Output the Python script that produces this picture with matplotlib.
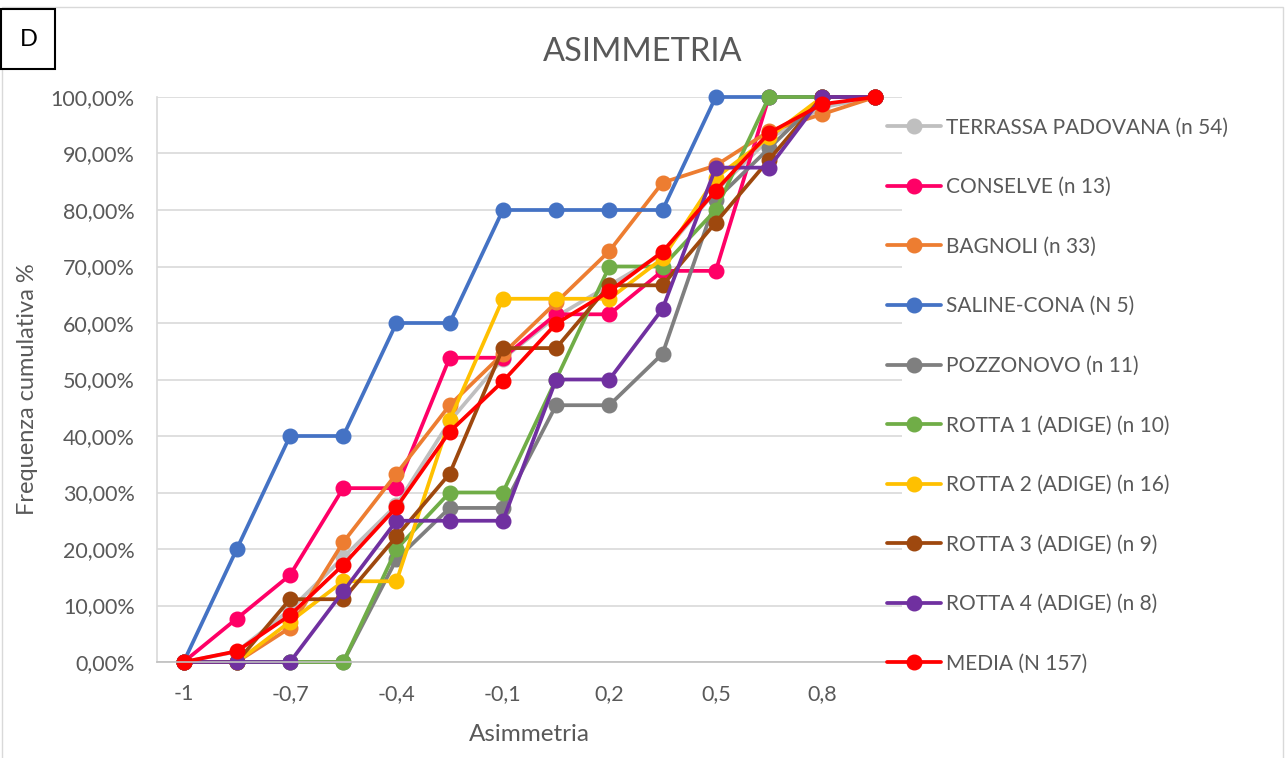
import matplotlib
matplotlib.use("Agg")
import matplotlib.pyplot as plt
from matplotlib.patches import Rectangle
from matplotlib.ticker import FuncFormatter

plt.rcParams['font.family'] = ['Lato', 'DejaVu Sans']

# ---- data ----
x_vals = [-1.0, -0.85, -0.7, -0.55, -0.4, -0.25, -0.1, 0.05, 0.2, 0.35, 0.5, 0.65, 0.8, 0.95]
tick_vals = [-1.0, -0.7, -0.4, -0.1, 0.2, 0.5, 0.8]
tick_labels = ["-1", "-0,7", "-0,4", "-0,1", "0,2", "0,5", "0,8"]

series_names = [
    "TERRASSA PADOVANA (n 54)",
    "CONSELVE (n 13)",
    "BAGNOLI (n 33)",
    "SALINE-CONA (N 5)",
    "POZZONOVO (n 11)",
    "ROTTA 1 (ADIGE) (n 10)",
    "ROTTA 2 (ADIGE) (n 16)",
    "ROTTA 3 (ADIGE) (n 9)",
    "ROTTA 4 (ADIGE) (n 8)",
    "MEDIA (N 157)",
]
terrassa = [0, 1.85, 9.26, 18.52, 27.78, 42.59, 53.70, 61.11, 66.67, 72.22, 83.33, 92.59, 98.15, 100]
conselve = [0, 7.69, 15.38, 30.77, 30.77, 53.85, 53.85, 61.54, 61.54, 69.23, 69.23, 100, 100, 100]
bagnoli = [0, 0, 6.06, 21.21, 33.33, 45.45, 54.55, 63.64, 72.73, 84.85, 87.88, 93.94, 96.97, 100]
saline = [0, 20, 40, 40, 60, 60, 80, 80, 80, 80, 100, 100, 100, 100]
pozzonovo = [0, 0, 0, 0, 18.18, 27.27, 27.27, 45.45, 45.45, 54.55, 81.82, 90.91, 100, 100]
rotta1 = [0, 0, 0, 0, 20, 30, 30, 50, 70, 70, 80, 100, 100, 100]
rotta2 = [0, 0, 7.14, 14.29, 14.29, 42.86, 64.29, 64.29, 64.29, 71.43, 85.71, 92.86, 100, 100]
rotta3 = [0, 0, 11.11, 11.11, 22.22, 33.33, 55.56, 55.56, 66.67, 66.67, 77.78, 88.89, 100, 100]
rotta4 = [0, 0, 0, 12.5, 25, 25, 25, 50, 50, 62.5, 87.5, 87.5, 100, 100]
media = [0, 1.91, 8.28, 17.20, 27.39, 40.76, 49.68, 59.87, 65.61, 72.61, 83.44, 93.63, 98.73, 100]

all_series = [terrassa, conselve, bagnoli, saline, pozzonovo, rotta1, rotta2, rotta3, rotta4, media]
colors = ["#BFBFBF", "#FF0066", "#ED7D31", "#4472C4", "#7F7F7F",
          "#70AD47", "#FFC000", "#9E480E", "#7030A0", "#FF0000"]

text_col = "#595959"

fig = plt.figure(figsize=(12.87, 7.58), dpi=100)
W, H = 1287, 758

# outer chart border
fig.patches.append(Rectangle((2 / W, -0.05), (1283 - 2) / W, 1.05 - 7 / H,
                             transform=fig.transFigure, fill=False,
                             edgecolor="#D9D9D9", linewidth=1.0))

ax = fig.add_axes([157 / W, 1 - 662 / H, (902 - 157) / W, (662 - 97) / H])

for vals, name, c in zip(all_series, series_names, colors):
    ax.plot(x_vals, vals, color=c, linewidth=2.7, marker="o", markersize=10.5,
            label=name, clip_on=False, solid_capstyle="round")

ax.set_xlim(-1.075, 1.025)
ax.set_ylim(0, 100)
ax.set_yticks(range(0, 101, 10))
ax.yaxis.set_major_formatter(FuncFormatter(lambda v, p: ("%.2f%%" % v).replace(".", ",")))
ax.set_xticks(tick_vals)
ax.set_xticklabels(tick_labels)
ax.tick_params(axis="both", length=0, labelsize=15.5, labelcolor=text_col)
ax.tick_params(axis="y", pad=16)
ax.tick_params(axis="x", pad=16)
ax.grid(axis="y", color="#D9D9D9", linewidth=1.2)
ax.set_axisbelow(True)
for s in ["top", "right"]:
    ax.spines[s].set_visible(False)
ax.spines["left"].set_color("#D9D9D9")
ax.spines["left"].set_linewidth(1.2)
ax.spines["bottom"].set_color("#BFBFBF")
ax.spines["bottom"].set_linewidth(1.2)

ax.set_xlabel("Asimmetria", fontsize=17.5, color=text_col, labelpad=14)
fig.text(28 / W, 1 - 389 / H, "Frequenza cumulativa %", rotation=90, fontsize=17,
         color=text_col, ha="center", va="center")
fig.text(643 / W, 1 - 52 / H, "ASIMMETRIA", fontsize=23.5, color=text_col,
         ha="center", va="center")

# panel label
fig.patches.append(Rectangle((1 / W, 1 - 69 / H), 54 / W, 60 / H,
                             transform=fig.transFigure, fill=True, facecolor="white",
                             edgecolor="black", linewidth=1.5))
fig.text(29 / W, 1 - 40 / H, "D", fontsize=17, color="black", ha="center", va="center")

leg = fig.legend(loc="upper left", bbox_to_anchor=(887 / W, 1 - 117.5 / H),
                 frameon=False, fontsize=15, labelcolor=text_col,
                 handlelength=2.6, handletextpad=0.24, labelspacing=1.90,
                 borderpad=0, borderaxespad=0)

fig.savefig("out.png", dpi=100)
